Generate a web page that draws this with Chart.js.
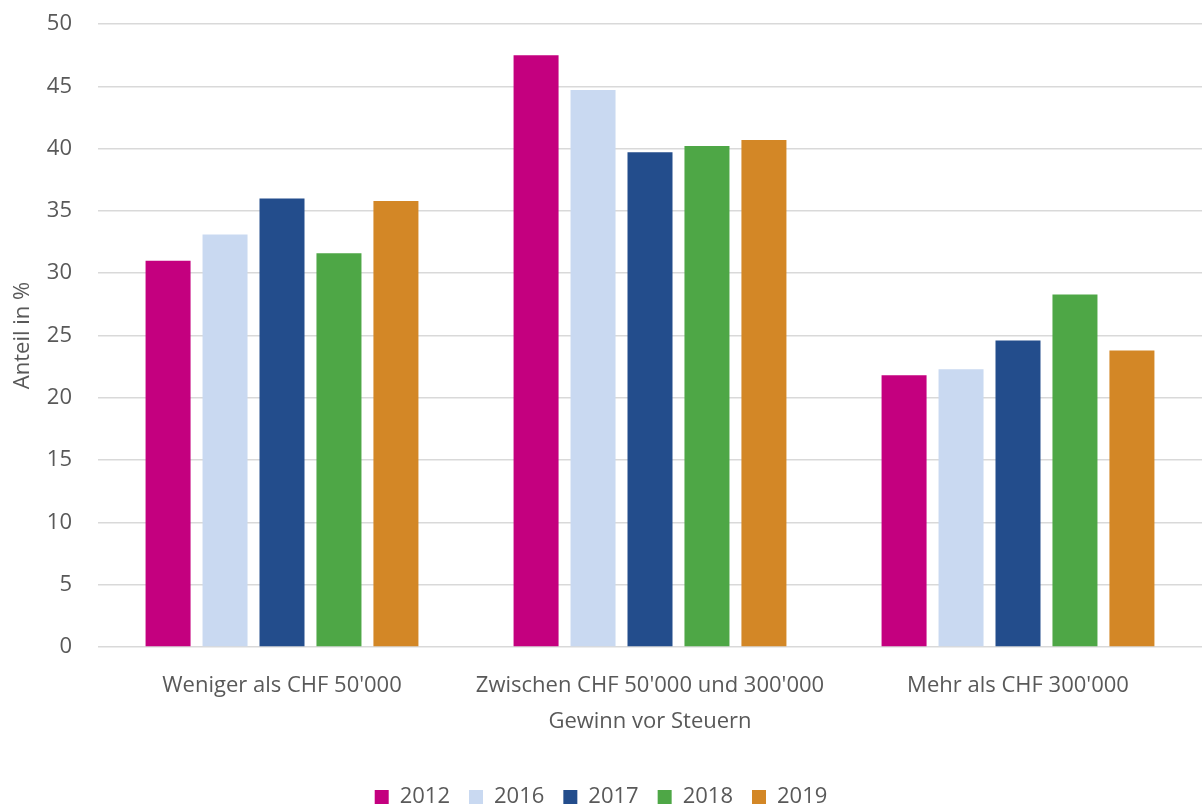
<!DOCTYPE html>
<html>
<head>
<meta charset="utf-8">
<script src="https://cdn.jsdelivr.net/npm/chart.js@4/dist/chart.umd.min.js"></script>
<style>
  html, body { margin: 0; padding: 0; background: #fff; }
  #wrap { width: 1202px; height: 807px; }
</style>
</head>
<body>
<div id="wrap"><canvas id="bar-graph"></canvas></div>
<script>
// data
var categories = ['Weniger als CHF 50\'000', 'Zwischen CHF 50\'000 und 300\'000', 'Mehr als CHF 300\'000'];
var years = ['2012', '2016', '2017', '2018', '2019'];
var values2012 = [31.0, 47.5, 21.8];
var values2016 = [33.1, 44.7, 22.3];
var values2017 = [36.0, 39.7, 24.6];
var values2018 = [31.6, 40.2, 28.3];
var values2019 = [35.8, 40.7, 23.8];
var colors = ['#C4007F', '#C9D9F1', '#234D8C', '#4EA746', '#D38726'];

var allValues = [values2012, values2016, values2017, values2018, values2019];
var datasets = [];
years.forEach(function (y, i) {
  datasets.push({
    label: y,
    data: allValues[i],
    backgroundColor: colors[i],
    borderWidth: 0,
    categoryPercentage: 0.774,
    barPercentage: 0.79
  });
});

Chart.defaults.font.family = '"Open Sans", "Noto Sans", sans-serif';
Chart.defaults.font.size = 22;
Chart.defaults.color = '#595959';

const ctx = document.getElementById('bar-graph');

new Chart(ctx, {
  type: 'bar',
  data: { labels: categories, datasets: datasets },
  options: {
    responsive: true,
    maintainAspectRatio: false,
    animation: false,
    layout: { padding: { top: 24, right: 0, bottom: -11, left: 0 } },
    plugins: {
      legend: {
        position: 'bottom',
        labels: { boxWidth: 14, boxHeight: 14, padding: 19 }
      },
      tooltip: { enabled: false }
    },
    scales: {
      x: {
        grid: { display: false },
        border: { display: false },
        ticks: { padding: 18, maxRotation: 0 },
        title: { display: true, text: 'Gewinn vor Steuern', padding: { top: 10, bottom: 32 } },
        afterFit: function (scale) { scale.height = 120; }
      },
      y: {
        min: 0,
        max: 50,
        ticks: { stepSize: 5, padding: 26 },
        grid: { color: '#d9d9d9', lineWidth: 1.5, drawTicks: false },
        border: { display: false },
        title: { display: true, text: 'Anteil in %', padding: { top: 10, bottom: 10 } },
        afterFit: function (scale) {
          scale.width = 98;
          scale.paddingTop = 0;
          scale.paddingBottom = 0;
        }
      }
    }
  }
});
</script>
</body>
</html>
